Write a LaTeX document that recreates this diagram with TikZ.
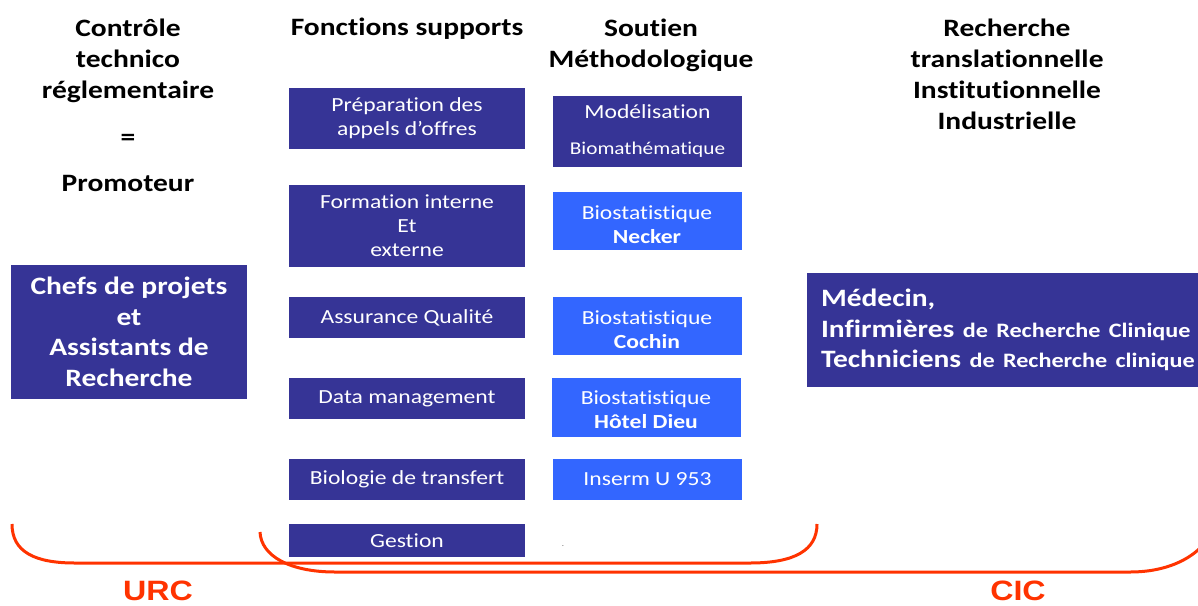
\documentclass[tikz,border=0pt]{standalone}
\usepackage{fontspec}
\setmainfont{Carlito}[FakeStretch=1.18, Ligatures=NoCommon]
\newfontfamily\arialf{Liberation Sans}[FakeStretch=1.15]
\definecolor{darkb}{RGB}{54,52,150}
\definecolor{lightb}{RGB}{51,102,255}
\definecolor{redb}{RGB}{255,51,0}
\begin{document}
\begin{tikzpicture}[x=1pt,y=-1pt,
  head/.style={align=center, inner sep=0pt, font=\bfseries\fontsize{25}{31}\selectfont},
  dbox/.style={fill=darkb, text=white, inner sep=0pt, align=center, font=\fontsize{20}{24}\selectfont},
  lbox/.style={dbox, fill=lightb},
  c2/.style={minimum width=236pt},
  c3/.style={minimum width=189pt},
  bracket/.style={draw=redb, line width=3pt},
  lab/.style={text=redb, inner sep=0pt, anchor=base, font=\arialf\bfseries\fontsize{28}{30}\selectfont}]
\useasboundingbox (0,0) rectangle (1198,605);
% headings
\node[head] (h1) at (128,61) {Contrôle\\technico\\réglementaire};
\node[head] (heq) at (128,140) {=};
\node[head] (hprom) at (128,183) {Promoteur};
\node[head] (h2) at (407,29) {Fonctions supports};
\node[head] (h3) at (651,45.5) {Soutien\\Méthodologique};
\node[head] (h4) at (1007,74) {Recherche\\translationnelle\\Institutionnelle\\Industrielle};
% left box
\node[dbox, minimum width=236pt, minimum height=134pt, font=\bfseries\fontsize{25}{30.5}\selectfont] (chefs) at (129,332) {Chefs de projets\\et\\Assistants de\\Recherche};
% column 2
\node[dbox, c2, minimum height=61pt] (prep) at (407,118.5) {Préparation des\\appels d’offres};
\node[dbox, c2, minimum height=82pt] (form) at (407,226) {Formation interne\\Et\\externe};
\node[dbox, c2, minimum height=41pt] (qual) at (407,317.5) {Assurance Qualité};
\node[dbox, c2, minimum height=41pt] (data) at (407,398.5) {Data management};
\node[dbox, c2, minimum height=41pt] (bio) at (407,479.5) {Biologie de transfert};
\node[dbox, c2, minimum height=33pt] (gest) at (407,540.5) {Gestion};
% column 3
\node[dbox, c3, minimum height=71pt] (modl) at (647.5,131.5) {Modélisation\\[12pt]{\fontsize{18}{22}\selectfont Biomathématique}};
\node[lbox, c3, minimum height=58pt] (neck) at (647,221) {\rule{0pt}{20.5pt}Biostatistique\\\textbf{Necker}};
\node[lbox, c3, minimum height=58pt] (coch) at (647,326) {\rule{0pt}{20.5pt}Biostatistique\\\textbf{Cochin}};
\node[lbox, c3, minimum height=59pt] (hotel) at (646,407.5) {\rule{0pt}{19pt}Biostatistique\\\textbf{Hôtel Dieu}};
\node[lbox, c3, minimum height=41pt] (inserm) at (647.5,479.5) {Inserm U 953};
\node[inner sep=0pt, font=\fontsize{6}{6}\selectfont] (dot) at (563,546) {.};
% right box
\node[dbox, align=left, text width=392pt, inner xsep=14pt, minimum height=114pt, font=\bfseries\fontsize{25}{30.5}\selectfont] (cic) at (1017,330) {Médecin,\\Infirmières {\fontsize{20.5}{30.5}\selectfont de Recherche Clinique}\\Techniciens {\fontsize{20.5}{30.5}\selectfont de Recherche clinique}};
% brackets
\coordinate (u1) at (12,524);
\coordinate (u2) at (817,524);
\coordinate (k1) at (260,532);
\coordinate (k2) at (1204,544);
\draw[bracket] (u1) .. controls (12,552) and (35,563) .. (75,563) -- (750,563) .. controls (795,563) and (817,550) .. (u2);
\draw[bracket] (k1) .. controls (261,556) and (290,572) .. (335,572) -- (1130,572) .. controls (1165,572) and (1190,560) .. (k2);
\node[lab] (urc) at (158,600) {URC};
\node[lab] (cicl) at (1018,600) {CIC};
\end{tikzpicture}
\end{document}
